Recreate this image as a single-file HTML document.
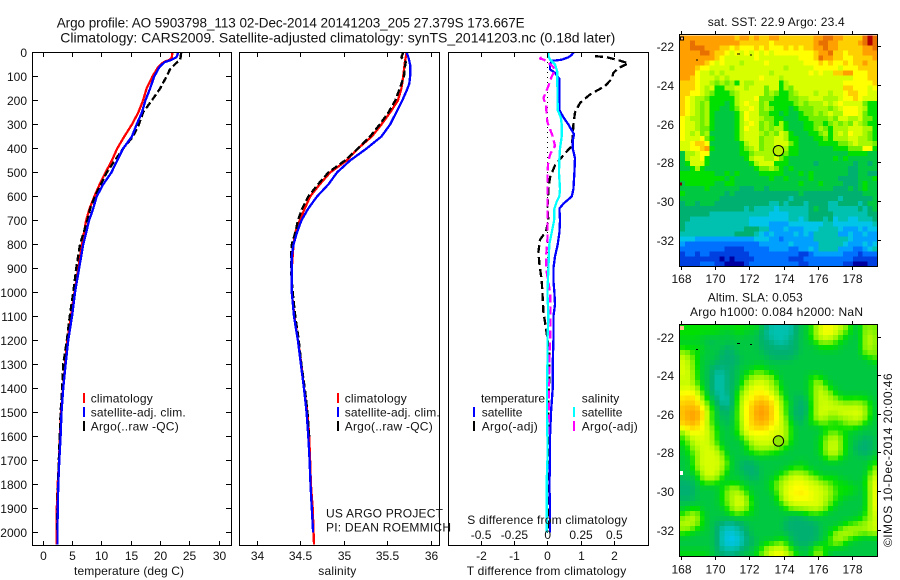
<!DOCTYPE html>
<html>
<head>
<meta charset="utf-8">
<title>Argo profile chart</title>
<style>
html,body{margin:0;padding:0;background:#fff;width:900px;height:580px;overflow:hidden}
svg{display:block;font-family:"Liberation Sans",sans-serif;font-size:12px;fill:#000}
text{stroke:none;fill:#111}
.frame{fill:none;stroke:#000;stroke-width:1;shape-rendering:crispEdges}
.tick{stroke:#000;stroke-width:1;shape-rendering:crispEdges}
.curve{fill:none;stroke-width:2.3;stroke-linejoin:round;shape-rendering:crispEdges}
.key{stroke-width:2;shape-rendering:crispEdges}
</style>
</head>
<body>
<svg id="chart" width="900" height="580" viewBox="0 0 900 580">
  <rect width="900" height="580" fill="#fff"/>
  <text x="56.7" y="27.3" font-size="13.5" textLength="468">Argo profile: AO 5903798_113 02-Dec-2014 20141203_205 27.379S 173.667E</text>
  <text x="60.3" y="42.7" font-size="14" textLength="555">Climatology: CARS2009. Satellite-adjusted climatology: synTS_20141203.nc (0.18d later)</text>

  <g id="zero-layer"></g>
  <g id="curves"></g>

  <rect class="frame" x="32.5" y="52.5" width="199" height="493"/>
  <rect class="frame" x="239.5" y="52.5" width="200" height="493"/>
  <rect class="frame" x="448.5" y="52.5" width="200" height="493"/>
  <g id="ticks"></g>
  <g id="labels"></g>

  <text x="74" y="575" textLength="110">temperature (deg C)</text>
  <text x="318.3" y="575" textLength="38">salinity</text>
  <text x="466.7" y="575" textLength="159.5">T difference from climatology</text>
  <text x="467.3" y="524" textLength="160">S difference from climatology</text>

  <g>
    <line class="key" x1="84" x2="84" y1="393" y2="403" stroke="#f00"/>
    <line class="key" x1="84" x2="84" y1="407" y2="417" stroke="#00f"/>
    <line class="key" x1="84" x2="84" y1="421" y2="431" stroke="#000"/>
    <text x="90.7" y="402.3" textLength="62">climatology</text>
    <text x="90.7" y="416.7" textLength="95">satellite-adj. clim.</text>
    <text x="90.7" y="430.7" textLength="88">Argo(..raw -QC)</text>
  </g>
  <g>
    <line class="key" x1="338" x2="338" y1="393" y2="403" stroke="#f00"/>
    <line class="key" x1="338" x2="338" y1="407" y2="417" stroke="#00f"/>
    <line class="key" x1="338" x2="338" y1="421" y2="431" stroke="#000"/>
    <text x="344.7" y="402.3" textLength="62">climatology</text>
    <text x="344.7" y="416.7" textLength="95">satellite-adj. clim.</text>
    <text x="344.7" y="430.7" textLength="88">Argo(..raw -QC)</text>
  </g>
  <text x="326" y="517.3" textLength="117">US ARGO PROJECT</text>
  <text x="326" y="531.3" textLength="125">PI: DEAN ROEMMICH</text>
  <g>
    <text x="481" y="402.3" textLength="64">temperature</text>
    <text x="581.7" y="402.3" textLength="37.6">salinity</text>
    <line class="key" x1="474" x2="474" y1="407" y2="417" stroke="#00f"/>
    <line class="key" x1="474" x2="474" y1="421" y2="431" stroke="#000"/>
    <line class="key" x1="574" x2="574" y1="407" y2="417" stroke="#0ff"/>
    <line class="key" x1="574" x2="574" y1="421" y2="431" stroke="#f0f"/>
    <text x="481.7" y="416.7" textLength="40.7">satellite</text>
    <text x="481.7" y="430.7" textLength="56">Argo(-adj)</text>
    <text x="581.7" y="416.7" textLength="40.7">satellite</text>
    <text x="581.7" y="430.7" textLength="56">Argo(-adj)</text>
  </g>

  <text x="707.7" y="26" textLength="137">sat. SST: 22.9 Argo: 23.4</text>
  <text x="707.7" y="301.7" textLength="95">Altim. SLA: 0.053</text>
  <text x="690" y="316" textLength="173">Argo h1000: 0.084 h2000: NaN</text>
  <g id="maps"></g>
  <text transform="translate(892,547) rotate(-90)" textLength="173.6">©IMOS 10-Dec-2014 20:00:46</text>
</svg>

<script>
// ---------- profile data ----------
const tempDepths = [0,20,30,40,60,100,150,200,250,300,350,400,450,500,550,600,650,700,800,900,1000,1100,1200,1300,1400,1500,1600,1700,1800,1900,2050];
const tempClimatology = [22.0,21.9,21.6,20.5,19.6,18.6,17.6,17.0,16.2,15.1,13.8,12.6,11.7,10.6,9.6,8.7,7.9,7.3,6.6,5.95,5.3,4.7,4.1,3.7,3.4,3.0,2.85,2.67,2.45,2.3,2.3];
const tempSatellite = [23.0,22.7,21.9,20.7,19.8,18.9,18.2,17.4,16.8,15.9,15.1,13.6,12.6,11.6,10.2,9.1,8.5,7.8,6.8,6.1,5.4,4.9,4.25,3.8,3.4,3.1,2.95,2.73,2.55,2.45,2.4];
const tempArgoDepths = [0,20,30,50,70,100,150,200,250,300,350,400,450,500,550,600,650,700,800,900,1000,1100,1200,1300,1400,1500,1600,1700,1800,1900,2000];
const tempArgo = [23.5,23.4,23.3,22.4,21.6,21.0,19.9,18.5,17.0,16.3,15.3,13.6,12.2,10.8,9.8,8.8,8.0,7.5,6.25,5.6,5.1,4.5,4.0,3.4,3.2,2.95,2.8,2.65,2.5,2.4,2.35];

const salClimDepths = [0,40,100,150,200,250,300,350,400,450,500,550,600,650,700,750,800,900,1000,1100,1200,1300,1400,1500,1600,1700,1800,1900,2050];
const salClimatology = [35.72,35.70,35.68,35.66,35.62,35.53,35.43,35.32,35.16,35.03,34.84,34.72,34.61,34.55,34.49,34.44,34.42,34.40,34.40,34.43,34.47,34.51,34.54,34.58,34.60,34.61,34.62,34.64,34.655];
const salSatDepths = [0,20,50,100,130,150,200,250,300,350,400,450,500,550,600,650,700,750,800,850,900,1000,1100,1200,1300,1400,1500,1600,1700,1800,1900,2000];
const salSatellite = [35.72,35.74,35.76,35.76,35.75,35.73,35.67,35.60,35.53,35.43,35.26,35.07,34.92,34.82,34.69,34.59,34.51,34.46,34.42,34.40,34.40,34.40,34.425,34.47,34.505,34.54,34.57,34.59,34.605,34.615,34.63,34.645];
const salArgoDepths = [0,20,40,60,100,150,200,250,300,350,400,450,500,550,600,650,700,750,800,850,900,1000,1100,1200,1300,1400,1500,1600];
const salArgo = [35.68,35.66,35.71,35.70,35.69,35.64,35.59,35.51,35.41,35.30,35.16,35.01,34.82,34.70,34.59,34.52,34.47,34.44,34.40,34.39,34.39,34.41,34.44,34.48,34.51,34.55,34.58,34.60];

const diffSatTDepths = [0,10,20,30,35,50,70,85,110,150,200,240,270,300,340,370,400,440,500,570,600,630,650,700,750,800,850,900,950,1000,1050,1100,1200,1300,1400,1500,1600,1700,1800,1900,2000];
const diffSatT = [0.77,0.72,0.62,0.42,0.12,0.07,0.07,0.22,0.35,0.35,0.35,0.35,0.47,0.62,0.79,0.75,0.75,0.82,0.80,0.77,0.72,0.47,0.35,0.37,0.35,0.30,0.22,0.17,0.17,0.20,0.22,0.17,0.17,0.15,0.15,0.10,0.07,0.07,0.05,0.07,0.07];
const diffArgoTDepths = [15,20,30,45,65,85,110,140,175,210,250,300,350,390,420,470,520,570,650,700,745,780,830,880,950,1000,1080,1150,1250,1350,1450,1550,1700,1850,2000];
const diffArgoT = [1.42,1.77,2.07,2.42,2.12,1.97,1.92,1.72,1.27,0.97,0.82,0.77,0.75,0.72,0.52,0.22,0.07,0.02,-0.01,0.02,-0.05,-0.23,-0.28,-0.25,-0.18,-0.16,-0.13,-0.05,0.05,0.05,0.02,0.02,0.02,0.02,0.02];
const diffSatSDepths = [0,15,30,50,80,110,240,270,300,350,400,450,500,570,600,620,650,700,750,800,900,1000,1100,1200,1300,1400,1500,1600,1700,1800,1900,2000];
const diffSatS = [0.005,0.005,0.018,0.055,0.072,0.072,0.075,0.098,0.105,0.105,0.092,0.087,0.085,0.092,0.087,0.068,0.05,0.048,0.03,0.012,0.005,-0.002,0.005,-0.002,-0.002,-0.005,-0.005,-0.002,-0.002,-0.008,-0.008,-0.008];
const diffArgoSDepths = [20,25,30,40,60,75,100,120,150,190,220,260,290,320,350,390,420,450,500,600,700,780,850,900,1000,1100,1200,1300,1400,1500,1600];
const diffArgoS = [-0.045,-0.058,-0.028,-0.002,0.042,0.055,0.03,0.018,-0.002,-0.032,-0.012,-0.008,-0.002,0.018,0.038,0.055,0.022,0.005,-0.002,-0.002,-0.002,-0.002,-0.012,-0.012,0.018,0.022,0.018,0.012,0.008,0.008,0.005];

// ---------- tick labels ----------
const depthTicks = [0,100,200,300,400,500,600,700,800,900,1000,1100,1200,1300,1400,1500,1600,1700,1800,1900,2000];
const tempTicks = [0,5,10,15,20,25,30];
const salTicks = [34,34.5,35,35.5,36];
const diffTTicks = [-2,-1,0,1,2];
const diffSTicks = [-0.5,-0.25,0,0.25,0.5];
const lonTicks = [168,170,172,174,176,178];
const latTicks = [-22,-24,-26,-28,-30,-32];

// ---------- map grids: each character is a colour level (0..g) ----------
const sstLevels = [
"eeeeeeeeee edeededdee dddddddeef feeddddfgf",
"eefeeeeeee eeddddddcd dddddddeff eeddddefgf",
"eefffeeedd cdcccdcdcc cdcdcddeef eedddddeef",
"eeeeffeddc bcbcbcbcbc cccccccdee fddcdddeee",
"eeeeeeedcb bbbbbcbbbb bbbbcccdfe eddccdddde",
"eeeeedcbcb bbabbbbcbb bbbbbcccdc dccdcddedd",
"eeedccbbbb abbbbbbbbb babbbbbccc ccbcccdddd",
"eeecbbabab bbbbbbbbab bbbbbbcbcb bddeecccdd",
"eedcbbbaba bbbbbbcbbb abbbbbbbbb bbbbbcccdd",
"dddcbba9a9 a8baabbbbb 8abbbbbbbb bbbccccccd",
"dddcbab88a abbabbb9bb 8a9bbbbbbb bbbddcccbc",
"ddccba9888 9abbbbb9a9 889abbbabb abbcddccbb",
"dcbaa98888 8abbbc9998 8899aabbba aabccdcbbb",
"dcba9a8887 8abcbb9a88 8889a9aaab abcbbbb988",
"dcba9a8877 89bbcb9a98 8878999aaa 9abcccba88",
"dcba9a8777 78acbb9988 7877899a9a baacccb988",
"cbaa9a8777 78acbba998 8777889999 a9bbaab998",
"cbba9a8777 78abcb9a98 a877788998 9a9a9ba988",
"cbba998777 78acbb9a9a a8777889a9 8aaabbbaa8",
"cbab9a7777 78abbba9a9 ba8777889a 8abacbba98",
"cbbbc98777 78abbb9aab ba88777889 8aaabbaa98",
"bbcddc7777 778abb9aab bb98777788 8899abaaa9",
"bbccde8777 7789ab9aa8 aa88777777 7888999cc8",
"7aabcc7777 77889aaaa8 8988777777 7777888877",
"7abbc87777 7778abbaab 9877777777 7878777777",
"78bbb87777 77778abbb8 8877777677 7777767767",
"778a877777 77777899a9 8787777777 7777667777",
"8888888778 7877778888 8777878777 7777667766",
"8888888887 8777777787 7877778777 7766667778",
"7888888778 8777777777 7777877787 7776667877",
"7777787777 7766677677 7777777777 7666767877",
"8777777776 7666666666 6666766666 6666666777",
"7777777766 6666666666 6656666666 6656666667",
"6776777666 6666666655 6566656666 5566665677",
"6666666666 6665655554 5555556766 5555556567",
"6666665555 5555555544 4455556666 6555555566",
"6655555555 5555444444 4455456665 6455445556",
"6555555555 5555444433 3344444445 5444444445",
"6555555555 5556665533 3433344455 5543334344",
"5555555555 5666654343 3334343555 5533433433",
"4443333333 3333344433 2333333555 5555433333",
"3222222222 2222223333 3343333355 5554333434",
"2222222221 1112222233 3322334355 5533322345",
"1221221111 1111222222 2222112333 3332221222",
"1111111101 0111122222 2211122222 2222211111",
"1111222110 0001222222 2222112222 2221100011"
];
const slaLevels = [
"8888888888 8888887655 5556778abc cbba877a99",
"8888888877 7887776555 5556778abc cba8877aa9",
"8888777777 7777776655 5566778abb ba88777ab9",
"7777776777 7777776665 5566777899 9887777ab9",
"8888877776 6777776666 6666777788 8877777aa9",
"a988777766 6777777666 6666777777 7777777aa9",
"ba98777766 6677777766 6667777777 7777777789",
"bb98777666 6677777777 7777777777 7777777778",
"bb98776666 6777788777 7777777777 7777777777",
"bba8776556 6778899887 7777777777 7777777777",
"bba8776556 6778aaaa98 7777778987 7777777777",
"aba8776556 678aabbba9 7777778a98 7777777777",
"bbba876556 678abccba9 8777778ab9 8777777777",
"cccb876556 68abccccba 8777778aba 9877777777",
"cddca87655 68abcdddcb 9776678abb a988888877",
"ddddb87655 68bcddeddc a977668aba baa99a9987",
"dedecb8766 68bcdeeedc a876668abb bbbbbbba87",
"deeedb8766 78bcdeeedc b876668abb aabbbbba87",
"deeedb8776 78bcdeeedc b976678aba 99aaabba87",
"ddedcb8776 78acddeddc b987678899 8889aa9877",
"cdddcb9877 78acddddcb ba87777778 8888887777",
"8bcbcba877 78abccccbb ba87777778 9988777777",
"8abbbba877 778abbbbbb ba87777789 ab98777667",
"88abbba877 7778abbbba a987777789 bb98776667",
"78aabbba87 77789aaaa9 9877777789 bb98766667",
"788abbbb97 7777889888 7777777789 bb98776667",
"778abbbba8 7777777777 7777777778 9987777778",
"778abbbbb9 7766677777 7777877777 7777777778",
"778abbbba8 7766667777 7788887777 777777778a",
"7778abbb98 7776667777 88aaa98877 777777778b",
"6777abba87 7777667778 9abbbba988 88777777ab",
"6667888877 8877777789 abbccbbba9 98887778ac",
"6667777789 a988777789 abccccbbba 98888877ac",
"6667777789 aba8777778 abccdccbbb a9888777ac",
"6667777789 abba877778 abcccccbba 98877777ac",
"7777777789 abba877777 8abbbbbbba 98777777ac",
"7788777778 abb9877777 789aaabbb9 87777777ac",
"89a9877777 8988877777 7777788887 77777778ab",
"9aba877777 7777777777 7766667777 77777788ab",
"aba9877665 5667777777 7666666677 7778899aab",
"aa98877655 5566777777 7666666677 788aaaaabb",
"8877777654 4556777777 7766666677 8aabaa999a",
"7777777654 4456677777 8776666677 8aa9887777",
"7777777654 4456677888 a876666778 9a98777777",
"7777777655 5566778abb ba87777a98 7777777777",
"8888887766 6677789abc cba8777a98 7777777777"
];
const levelColors = ["#0000a0","#0040e0","#0070ff","#00a0ff","#00c4e8","#00c0b0","#00b070","#00c840","#00e000","#70f000","#a8f800","#d8ff00","#ffff00","#ffd000","#ffa000","#e87000","#b00000"];
const profileLon = 173.667;
const profileLat = -27.379;

// ---------- axis functions ----------
const NS = "http://www.w3.org/2000/svg";
const yDepth = d => 52.5 + 0.24 * d;
const xTemp = t => 43.3 + 5.867 * t;
const xSal = s => 257 + 87 * (s - 34);
const xDiffT = v => 547.7 + 33.33 * v;
const xDiffS = v => 547.7 + 133.3 * v;
const xLon = lon => 681.3 + 17.14 * (lon - 168);
const ySst = lat => 46.7 + 19.33 * (-lat - 22);
const ySla = lat => 337 + 19.33 * (-lat - 22);

function make(tag, attrs, parent) {
  const el = document.createElementNS(NS, tag);
  for (const k in attrs) el.setAttribute(k, attrs[k]);
  parent.appendChild(el);
  return el;
}

const curves = document.getElementById("curves");
function drawCurve(name, depths, values, xFn, color, dash) {
  const pts = depths.map((d, i) => xFn(values[i]).toFixed(1) + "," + yDepth(d).toFixed(1)).join(" ");
  const attrs = { class: "curve", points: pts, stroke: color };
  if (dash) attrs["stroke-dasharray"] = dash;
  const el = make("polyline", attrs, curves);
  
  
}

drawCurve("temperature-climatology-line", tempDepths, tempClimatology, xTemp, "#f00");
drawCurve("temperature-argo-line", tempArgoDepths, tempArgo, xTemp, "#000", "7 3");
drawCurve("temperature-satellite-line", tempDepths, tempSatellite, xTemp, "#00f");
drawCurve("salinity-climatology-line", salClimDepths, salClimatology, xSal, "#f00");
drawCurve("salinity-argo-line", salArgoDepths, salArgo, xSal, "#000", "7 3");
drawCurve("salinity-satellite-line", salSatDepths, salSatellite, xSal, "#00f");
drawCurve("t-difference-argo-line", diffArgoTDepths, diffArgoT, xDiffT, "#000", "8 4");
drawCurve("t-difference-satellite-line", diffSatTDepths, diffSatT, xDiffT, "#00f");
drawCurve("s-difference-argo-line", diffArgoSDepths, diffArgoS, xDiffS, "#f0f", "8 4");
drawCurve("s-difference-satellite-line", diffSatSDepths, diffSatS, xDiffS, "#0ff");

const zero = make("line", { x1: xDiffT(0), x2: xDiffT(0), y1: 52, y2: 535, stroke: "#000", "stroke-dasharray": "1 4", "shape-rendering": "crispEdges" }, document.getElementById("zero-layer"));



// ---------- ticks and tick labels ----------
const tickLayer = document.getElementById("ticks");
const labelLayer = document.getElementById("labels");
function tick(name, x1, y1, x2, y2) {
  const el = make("line", { class: "tick", x1, y1, x2, y2 }, tickLayer);
  
  
}
function label(name, x, y, txt, anchor) {
  const el = make("text", { x, y, "text-anchor": anchor || "middle" }, labelLayer);
  el.textContent = txt;
  
  
}
depthTicks.forEach(d => {
  const y = Math.floor(yDepth(d)) + 0.5;
  if (d > 0) {
    tick("depth-tick-left", 33, y, 38, y);
    tick("depth-tick-right", 226, y, 231, y);
  }
  label("depth-tick-label", 27, y + 4.5, String(d), "end");
});
function xAxis(name, ticks, xFn, fmt) {
  ticks.forEach(v => {
    const x = Math.floor(xFn(v)) + 0.5;
    tick(name + "-tick-top", x, 53, x, 57);
    tick(name + "-tick-bottom", x, 541, x, 545);
    label(name + "-tick-label", x, 560, fmt ? fmt(v) : String(v));
  });
}
xAxis("temperature", tempTicks, xTemp);
xAxis("salinity", salTicks, xSal);
xAxis("t-difference", diffTTicks, xDiffT);
diffSTicks.forEach(v => {
  label("s-difference-tick-label", xDiffS(v), 539, String(v));
});

// ---------- colour helpers ----------
function hexToRgb(h) {
  return [parseInt(h.slice(1, 3), 16), parseInt(h.slice(3, 5), 16), parseInt(h.slice(5, 7), 16)];
}
const levelRgb = levelColors.map(hexToRgb);
function colorForValue(v) {
  const lo = Math.max(0, Math.min(levelRgb.length - 1, Math.floor(v)));
  const hi = Math.min(levelRgb.length - 1, lo + 1);
  const f = v - lo;
  const c = levelRgb[lo].map((a, i) => Math.round(a + (levelRgb[hi][i] - a) * f));
  return "rgb(" + c.join(",") + ")";
}
function parseGrid(rows) {
  return rows.map(r => r.replace(/ /g, "").split("").map(ch => parseInt(ch, 17)));
}
function smoothGrid(g) {
  const kernel = [1, 2, 1];
  return g.map((row, i) => row.map((_, j) => {
    let sum = 0, weight = 0;
    for (let a = -1; a <= 1; a++) {
      for (let b = -1; b <= 1; b++) {
        const r = g[i + a];
        if (!r || r[j + b] === undefined) continue;
        const w = kernel[a + 1] * kernel[b + 1];
        sum += r[j + b] * w;
        weight += w;
      }
    }
    return sum / weight;
  }));
}

// ---------- maps ----------
const mapLayer = document.getElementById("maps");
const MAP_X = 680, MAP_W = 197.5, MAP_H = 231;
function drawMap(name, grid, top, yFn, circleFill, labelY, marks) {
  const g = make("g", { "shape-rendering": "crispEdges" }, mapLayer);
  
  
  const rowH = MAP_H / grid.length;
  const colW = MAP_W / 40;
  grid.forEach((cells, i) => {
    cells.forEach((level, j) => {
      const c = make("rect", { x: (MAP_X + j * colW).toFixed(2), y: (top + i * rowH).toFixed(2), width: (colW + 0.4).toFixed(2), height: (rowH + 0.4).toFixed(2), fill: colorForValue(level) }, g);
      
      
    });
  });
  marks.forEach(m => {
    const k = make("rect", { x: m[0], y: top + m[1], width: m[2], height: m[3], fill: m[4] }, g);
    
    
  });
  const frame = make("rect", { class: "frame", x: MAP_X - 0.5, y: Math.floor(top) - 0.5, width: MAP_W + 0.5, height: MAP_H + 1 }, mapLayer);
  
  
  lonTicks.forEach(lon => {
    const x = Math.floor(xLon(lon)) + 0.5;
    tick(name + "-lon-tick-top", x, Math.floor(top) - 4, x, Math.floor(top) - 1);
    tick(name + "-lon-tick-bottom", x, Math.floor(top) + MAP_H + 1, x, Math.floor(top) + MAP_H + 4);
    label(name + "-lon-label", x, labelY, String(lon));
  });
  latTicks.forEach(lat => {
    const y = Math.floor(yFn(lat)) + 0.5;
    tick(name + "-lat-tick-right", MAP_X + MAP_W, y, MAP_X + MAP_W + 3.5, y);
    label(name + "-lat-label", 674, y + 4.5, String(lat), "end");
  });
  const dot = make("circle", { cx: xLon(profileLon), cy: yFn(profileLat), r: 5.2, fill: circleFill, stroke: "#000", "stroke-width": 1 }, mapLayer);
  
  
}
const sstMarks = [[680,1,4,4,"#000"],[681,2,2,2,"#ffc090"],[737,18,3,1,"#000"],[750,19,2,1,"#000"],[696,24,2,1,"#000"],[680,147,2,3,"#800000"]];
const slaMarks = [[680,1,4,4,"#ffc090"],[737,18,3,1,"#000"],[750,19,2,1,"#000"],[696,24,2,1,"#000"],[680,146,3,4,"#fff"]];
drawMap("sst-map", parseGrid(sstLevels), 35.5, ySst, "#b8f000", 283, sstMarks);
drawMap("sla-map", smoothGrid(parseGrid(slaLevels)), 325, ySla, "#90e800", 573.3, slaMarks);
</script>
</body>
</html>
